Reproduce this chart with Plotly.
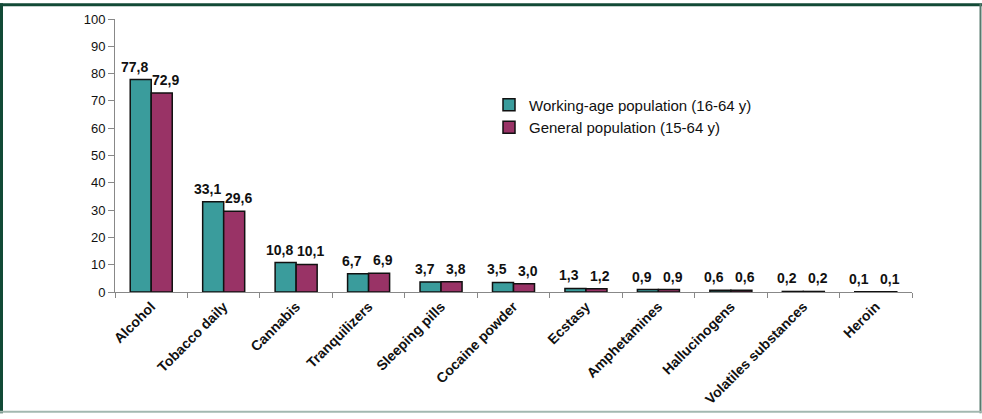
import plotly.graph_objects as go

categories = ["Alcohol", "Tobacco daily", "Cannabis", "Tranquilizers", "Sleeping pills",
              "Cocaine powder", "Ecstasy", "Amphetamines", "Hallucinogens",
              "Volatiles substances", "Heroin"]
working_age = [77.8, 33.1, 10.8, 6.7, 3.7, 3.5, 1.3, 0.9, 0.6, 0.2, 0.1]
general_pop = [72.9, 29.6, 10.1, 6.9, 3.8, 3.0, 1.2, 0.9, 0.6, 0.2, 0.1]
y_ticks = [0, 10, 20, 30, 40, 50, 60, 70, 80, 90, 100]

W, H = 982, 419
ML, MR, MT, MB = 115, 70, 16, 124
PW, PH = W - ML - MR, H - MT - MB
BARGAP = 0.42

FONT = "Liberation Sans, Arial, sans-serif"


def px_x(px):
    return (px - ML) / PW


def px_y(py):
    return (H - MB - py) / PH


series = [("Working-age population (16-64 y)", working_age, "#3A9C9C", -1),
          ("General population (15-64 y)", general_pop, "#993366", 1)]

fig = go.Figure()
for name, vals, color, _ in series:
    fig.add_trace(go.Bar(
        x=categories, y=vals, name=name,
        marker=dict(color=color, line=dict(color="#111111", width=1.5)),
        cliponaxis=False,
    ))

# value labels sit above each bar, nudged outward so neighbours don't collide
cat_px = PW / len(categories)
bar_px = cat_px * (1 - BARGAP) / 2
annotations = []
for _, vals, _, side in series:
    nudge = -6 if side < 0 else 4
    for cat, v in zip(categories, vals):
        annotations.append(dict(
            x=cat, y=v, xref="x", yref="y", text=f"{v:.1f}".replace(".", ","),
            showarrow=False, xanchor="center", yanchor="bottom",
            xshift=side * bar_px / 2 + nudge, yshift=3,
            font=dict(family=FONT, size=14, color="#111111", weight="bold"),
        ))

# frame around the whole figure
frame = [
    dict(x0=px_x(0), x1=px_x(W), y0=px_y(1.5), y1=px_y(1.5), color="#124A36", width=3),
    dict(x0=px_x(1.5), x1=px_x(1.5), y0=px_y(0), y1=px_y(H), color="#124A36", width=3),
    dict(x0=px_x(980.5), x1=px_x(980.5), y0=px_y(0), y1=px_y(H), color="#587A6E", width=2),
    dict(x0=px_x(0), x1=px_x(W), y0=px_y(417.5), y1=px_y(417.5), color="#A3B8B0", width=2),
]
shapes = [dict(type="line", xref="paper", yref="paper", x0=f["x0"], x1=f["x1"],
               y0=f["y0"], y1=f["y1"], line=dict(color=f["color"], width=f["width"]))
          for f in frame]

fig.update_layout(
    width=W, height=H,
    margin=dict(l=ML, r=MR, t=MT, b=MB, pad=0),
    paper_bgcolor="white", plot_bgcolor="white",
    barmode="group", bargap=BARGAP, bargroupgap=0,
    separators=",.",
    font=dict(family=FONT, size=13, color="#111111"),
    showlegend=True,
    legend=dict(x=px_x(489), y=px_y(87), xanchor="left", yanchor="top",
                font=dict(family=FONT, size=15, color="#111111"),
                bgcolor="rgba(0,0,0,0)", tracegroupgap=0, itemwidth=30),
    shapes=shapes,
    annotations=annotations,
)
fig.update_xaxes(
    type="category", tickangle=-45, tickson="boundaries",
    ticks="outside", ticklen=5, tickcolor="#888888",
    showline=True, linecolor="#888888", linewidth=1,
    tickfont=dict(family=FONT, size=14, color="#111111", weight="bold"),
    showgrid=False,
)
fig.update_yaxes(
    range=[0, 100], tickvals=y_ticks, ticks="outside", ticklen=6,
    tickcolor="#888888", showline=True, linecolor="#888888", linewidth=1,
    tickfont=dict(family=FONT, size=13, color="#111111"),
    showgrid=False, zeroline=False,
)

fig.write_html("out.html")
